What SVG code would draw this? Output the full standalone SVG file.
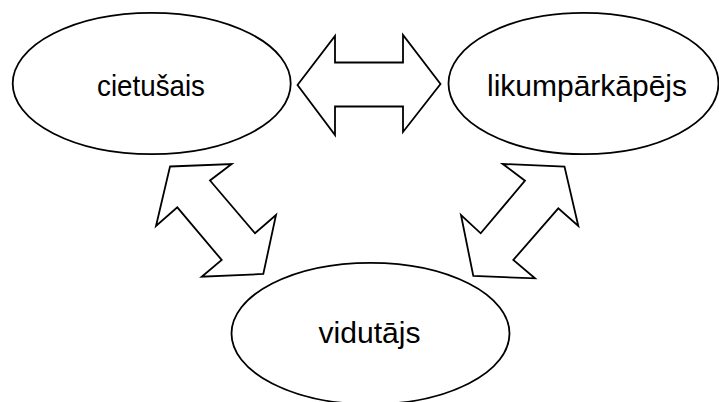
<svg xmlns="http://www.w3.org/2000/svg" width="719" height="402" viewBox="0 0 719 402">
<style>
.node ellipse{fill:#fff;stroke:#000;stroke-width:1.8}
.conn polygon{fill:#fff;stroke:#000;stroke-width:1.8;stroke-linejoin:miter}
text{font-family:"Liberation Sans",Arial,sans-serif;font-size:29px;fill:#000;text-anchor:middle}
</style>
<rect width="719" height="402" fill="#fff"/>
<g id="connectors" class="conn">
<polygon points="297.5,85 335,36 335,62.5 403,62.5 403,35 440.5,84 403,132 403,106.5 335,106.5 335,135"/>
<polygon points="170,166.5 231.7,164 210,180.5 255,233.3 276,215 263.3,274 201.7,276.7 221.7,260 177.3,207.3 156,226"/>
<polygon points="502.7,164 564.5,166.5 578.3,226 558.3,208.3 513.3,260 535,278.3 473.3,276 461,215 480.7,233.3 525,180.7"/>
</g>
<g id="cietusais" class="node">
<ellipse cx="151.7" cy="83.5" rx="139" ry="70.7"/>
<text x="151" y="96" textLength="108" lengthAdjust="spacingAndGlyphs">cietušais</text>
</g>
<g id="likumparkapejs" class="node">
<ellipse cx="583.5" cy="83.5" rx="135" ry="70.7"/>
<text x="587" y="95.5" textLength="200" lengthAdjust="spacingAndGlyphs">likumpārkāpējs</text>
</g>
<g id="vidutajs" class="node">
<ellipse cx="370.5" cy="333.5" rx="139" ry="70.7"/>
<text x="369.5" y="343.3" textLength="102" lengthAdjust="spacingAndGlyphs">vidutājs</text>
</g>
</svg>
